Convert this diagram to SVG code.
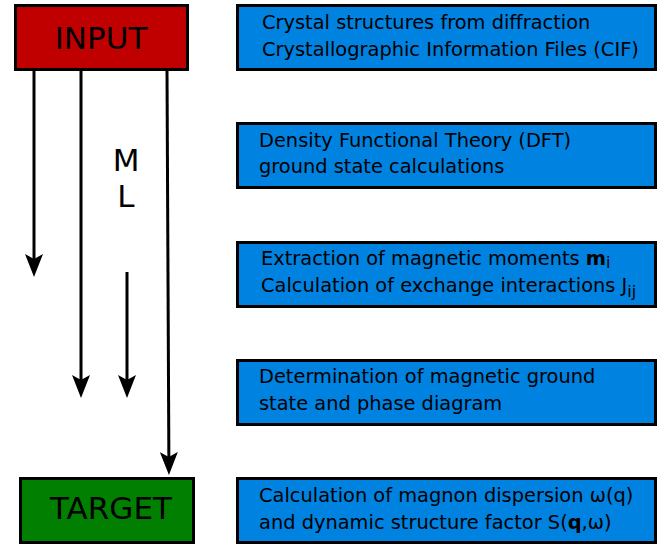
<svg xmlns="http://www.w3.org/2000/svg" width="669" height="545" viewBox="0 0 669 545">
<style>
text{font-family:"DejaVu Sans","Liberation Sans",sans-serif;fill:#000}
.big{font-size:31px}
.ml{font-size:31px}
.t{font-size:19.4px}
.sub{font-size:16px}
.box{stroke:#000;stroke-width:3}
.step{fill:#0082e0}
.conn{stroke:#000;stroke-width:3;fill:none;marker-end:url(#ah)}
</style>
<defs>
<marker id="ah" markerUnits="userSpaceOnUse" viewBox="0 0 23 18" markerWidth="23" markerHeight="18" refX="13" refY="9" orient="auto">
<path d="M0,0 L23,9 L0,18 L5,9 z" fill="#000"/>
</marker>
</defs>
<rect width="669" height="545" fill="#fff"/>
<g id="connectors">
<line class="conn" x1="34" y1="70" x2="34" y2="267"/>
<line class="conn" x1="81" y1="70" x2="81" y2="388"/>
<line class="conn" x1="127" y1="272" x2="127" y2="388"/>
<line class="conn" x1="167" y1="70" x2="168.9" y2="465"/>
</g>
<g id="input">
<rect class="box" x="15.5" y="5.5" width="172" height="64" fill="#c00000"/>
<text class="big" x="101" y="49" text-anchor="middle">INPUT</text>
</g>
<g id="ml-label">
<text class="ml" text-anchor="middle"><tspan x="126" y="171">M</tspan><tspan x="126" y="207">L</tspan></text>
</g>
<g id="target">
<rect class="box" x="20.5" y="478.5" width="173" height="64" fill="#007f00"/>
<text class="big" x="111" y="519" text-anchor="middle">TARGET</text>
</g>
<g id="step1">
<rect class="box step" x="237.5" y="5.5" width="418" height="64"/>
<text class="t" x="262" y="29">Crystal structures from diffraction</text>
<text class="t" x="262" y="56">Crystallographic Information Files (CIF)</text>
</g>
<g id="step2">
<rect class="box step" x="237.5" y="123.5" width="418" height="64"/>
<text class="t" x="259" y="147">Density Functional Theory (DFT)</text>
<text class="t" x="259" y="173">ground state calculations</text>
</g>
<g id="step3">
<rect class="box step" x="237.5" y="242.5" width="418" height="64"/>
<text class="t" x="261" y="265">Extraction of magnetic moments <tspan font-weight="bold">m</tspan><tspan class="sub" dy="3">i</tspan></text>
<text class="t" x="261" y="292">Calculation of exchange interactions J<tspan class="sub" dy="5">ij</tspan></text>
</g>
<g id="step4">
<rect class="box step" x="237.5" y="360.5" width="418" height="64"/>
<text class="t" x="259" y="383">Determination of magnetic ground</text>
<text class="t" x="259" y="410">state and phase diagram</text>
</g>
<g id="step5">
<rect class="box step" x="237.5" y="478.5" width="418" height="64"/>
<text class="t" x="259" y="502">Calculation of magnon dispersion ω(q)</text>
<text class="t" x="259" y="529">and dynamic structure factor S(<tspan font-weight="bold">q</tspan>,ω)</text>
</g>
</svg>
